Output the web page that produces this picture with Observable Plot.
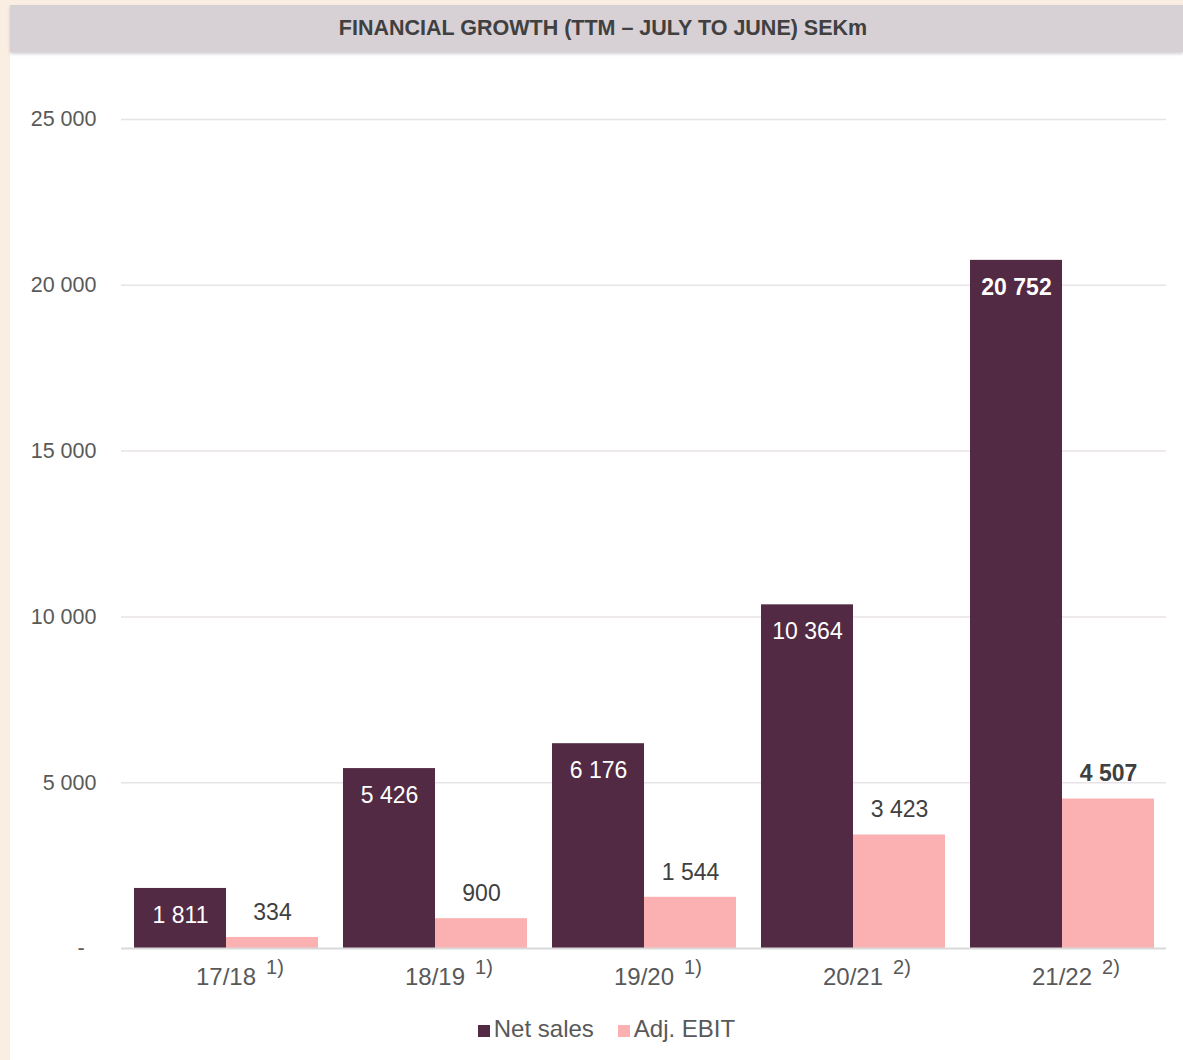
<!DOCTYPE html>
<html>
<head>
<meta charset="utf-8">
<script src="https://cdn.jsdelivr.net/npm/d3@7"></script>
<script src="https://cdn.jsdelivr.net/npm/@observablehq/plot@0.6"></script>
<style>
  html, body { margin: 0; padding: 0; }
  body { background: #FAEEE3; width: 1183px; height: 1060px; overflow: hidden; font-family: "Liberation Sans", Arial, sans-serif; }
  #panel { position: absolute; left: 10px; top: 5px; width: 1173px; height: 1055px; background: #ffffff; }
  #title { height: 47px; line-height: 47px; background: #D7D0D5; color: #404040; font-weight: bold; font-size: 21.5px; text-align: center; padding-left: 13px; box-shadow: 0 2px 3px rgba(0,0,0,0.18); position: relative; z-index: 1; }
  #legend { margin-top: 22px; height: 30px; line-height: 30px; text-align: center; font-size: 24px; color: #595959; padding-left: 20px; }
  #legend span.sw { display: inline-block; width: 12px; height: 12px; margin-right: 4px; vertical-align: 0px; }
  #legend span.item { margin: 0 12px; }
</style>
</head>
<body>
<div id="panel">
  <div id="title"></div>
  <div id="chart"></div>
  <div id="legend"></div>
</div>
<script>
const titleText = "FINANCIAL GROWTH (TTM \u2013 JULY TO JUNE) SEKm";
const periods = ["17/18", "18/19", "19/20", "20/21", "21/22"];
const notes = ["1)", "1)", "1)", "2)", "2)"];
const series = ["Net sales", "Adj. EBIT"];
const netSales = [1811, 5426, 6176, 10364, 20752];
const adjEbit = [334, 900, 1544, 3423, 4507];
const yTicks = [0, 5000, 10000, 15000, 20000, 25000];
const colors = ["#522A43", "#FBB1B1"];

document.getElementById("title").textContent = titleText;

const rows = [];
periods.forEach((p, i) => {
  rows.push({period: p, series: series[0], value: netSales[i]});
  rows.push({period: p, series: series[1], value: adjEbit[i]});
});
const noteRows = periods.map((p, i) => ({period: p, note: notes[i]}));
const lastPeriod = periods[periods.length - 1];

const fmt = d3.formatLocale({thousands: "\u00a0", grouping: [3], decimal: ".", currency: ["", ""]}).format(",d");
const yFmt = d => d === 0 ? "-\u00a0\u00a0" : fmt(d);

const font = "'Liberation Sans', Arial, sans-serif";

const chart = Plot.plot({
  width: 1173,
  height: 940,
  marginLeft: 110,
  marginRight: 17,
  marginTop: 67,
  marginBottom: 44,
  style: {fontFamily: font, fontSize: "21px", color: "#595959", background: "transparent", overflow: "visible"},
  fx: {domain: periods, padding: 0, label: null, axis: null},
  x: {domain: series, paddingInner: 0, paddingOuter: 0.125, axis: null},
  y: {domain: [0, 25000], axis: null},
  color: {domain: series, range: colors},
  marks: [
    Plot.gridY(yTicks.filter(d => d > 0), {stroke: "#E8E3E6", strokeOpacity: 1, strokeWidth: 1.5}),
    Plot.axisY(yTicks, {tickFormat: yFmt, tickSize: 0, tickPadding: 25, label: null, fontSize: 21.5, fill: "#595959"}),
    Plot.barY(rows, {fx: "period", x: "series", y: "value", fill: "series"}),
    Plot.ruleY([0], {stroke: "#D9D9D9", strokeWidth: 2}),
    Plot.axisFx({anchor: "bottom", tickSize: 0, tickPadding: 19, fontSize: 24, label: null, fill: "#595959"}),
    Plot.text(noteRows, {fx: "period", text: "note", frameAnchor: "bottom", dx: 49, dy: 25, fontSize: 20, fill: "#595959"}),
    Plot.text(rows, {filter: d => d.series === series[0] && d.period !== lastPeriod, fx: "period", x: "series", y: "value", text: d => fmt(d.value), dy: 27, fill: "white", fontSize: 23}),
    Plot.text(rows, {filter: d => d.series === series[0] && d.period === lastPeriod, fx: "period", x: "series", y: "value", text: d => fmt(d.value), dy: 27, fill: "white", fontSize: 23, fontWeight: "bold"}),
    Plot.text(rows, {filter: d => d.series === series[1] && d.period !== lastPeriod, fx: "period", x: "series", y: "value", text: d => fmt(d.value), dy: -25, fill: "#404040", fontSize: 23}),
    Plot.text(rows, {filter: d => d.series === series[1] && d.period === lastPeriod, fx: "period", x: "series", y: "value", text: d => fmt(d.value), dy: -25, fill: "#404040", fontSize: 23, fontWeight: "bold"})
  ]
});
document.getElementById("chart").appendChild(chart);

const legend = document.getElementById("legend");
series.forEach((s, i) => {
  const item = document.createElement("span");
  item.className = "item";
  const sw = document.createElement("span");
  sw.className = "sw";
  sw.style.background = colors[i];
  item.appendChild(sw);
  item.appendChild(document.createTextNode(s));
  legend.appendChild(item);
});
</script>
</body>
</html>
